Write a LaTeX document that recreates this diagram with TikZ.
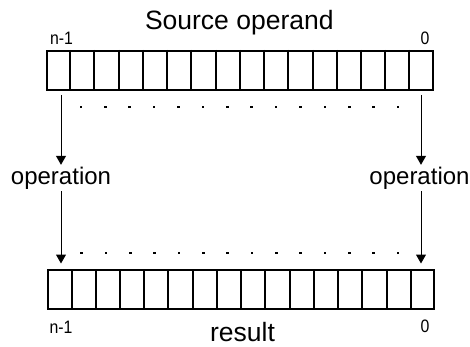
\documentclass[tikz,border=0pt]{standalone}
\usepackage{fontspec}
\setmainfont{Liberation Sans}
\newfontfamily\narrowfont[FakeStretch=0.88]{Liberation Sans}
\usetikzlibrary{arrows.meta,calc}
\begin{document}
\begin{tikzpicture}[x=1pt,y=-1pt,
  regbox/.style={draw,line width=2pt,minimum width=385.7pt,minimum height=39pt,inner sep=0pt,anchor=north west},
  divline/.style={line width=2pt},
  arr/.style={line width=1pt,-{Triangle[width=10pt,length=9pt]}},
  dotmark/.style={fill=black,minimum size=2.6pt,inner sep=0pt},
  title/.style={font=\fontsize{26.5}{30}\selectfont,inner sep=0pt,anchor=base},
  optext/.style={font=\fontsize{24}{28}\selectfont,inner sep=0pt,anchor=base,text height=20pt,text depth=6pt},
  idx/.style={font=\narrowfont\fontsize{18}{20}\selectfont,inner sep=0pt,anchor=base}]
\useasboundingbox (0,0) rectangle (470,347);
% titles
\node[title] (srct) at (239.3,30) {Source operand};
\node[title] (rest) at (242.5,341.5) {result};
% registers
\node[regbox] (src) at (46,50) {};
\node[regbox] (res) at (47.3,269.3) {};
\foreach \r in {src,res}{
  \foreach \i in {1,...,15}{
    \draw[divline] ($(\r.north west)!\i/16!(\r.north east)$) -- ($(\r.south west)!\i/16!(\r.south east)$);
  }
}
% index labels
\node[idx] (srcl) at (61.5,45) {n-1};
\node[idx] (srcr) at (425,45) {0};
\node[idx] (resl) at (61,333) {n-1};
\node[idx] (resr) at (425,332) {0};
% dots
\foreach \k in {0,...,13}{
  \node[dotmark] (dt\k) at ({81+\k*317/13},107) {};
  \node[dotmark] (db\k) at ({81.7+\k*316.3/13},253) {};
}
% operations
\node[optext] (op1) at (61,185) {operation};
\node[optext] (op2) at (419.5,185) {operation};
\coordinate (t1) at (61,95);
\coordinate (t2) at (421,95);
\coordinate (b1) at (61,263.5);
\coordinate (b2) at (421,263.5);
\draw[arr] (t1) -- (t1 |- op1.north);
\draw[arr] (op1.south) -- (b1);
\draw[arr] (t2) -- (t2 |- op2.north);
\draw[arr] (t2 |- op2.south) -- (b2);
\end{tikzpicture}
\end{document}
